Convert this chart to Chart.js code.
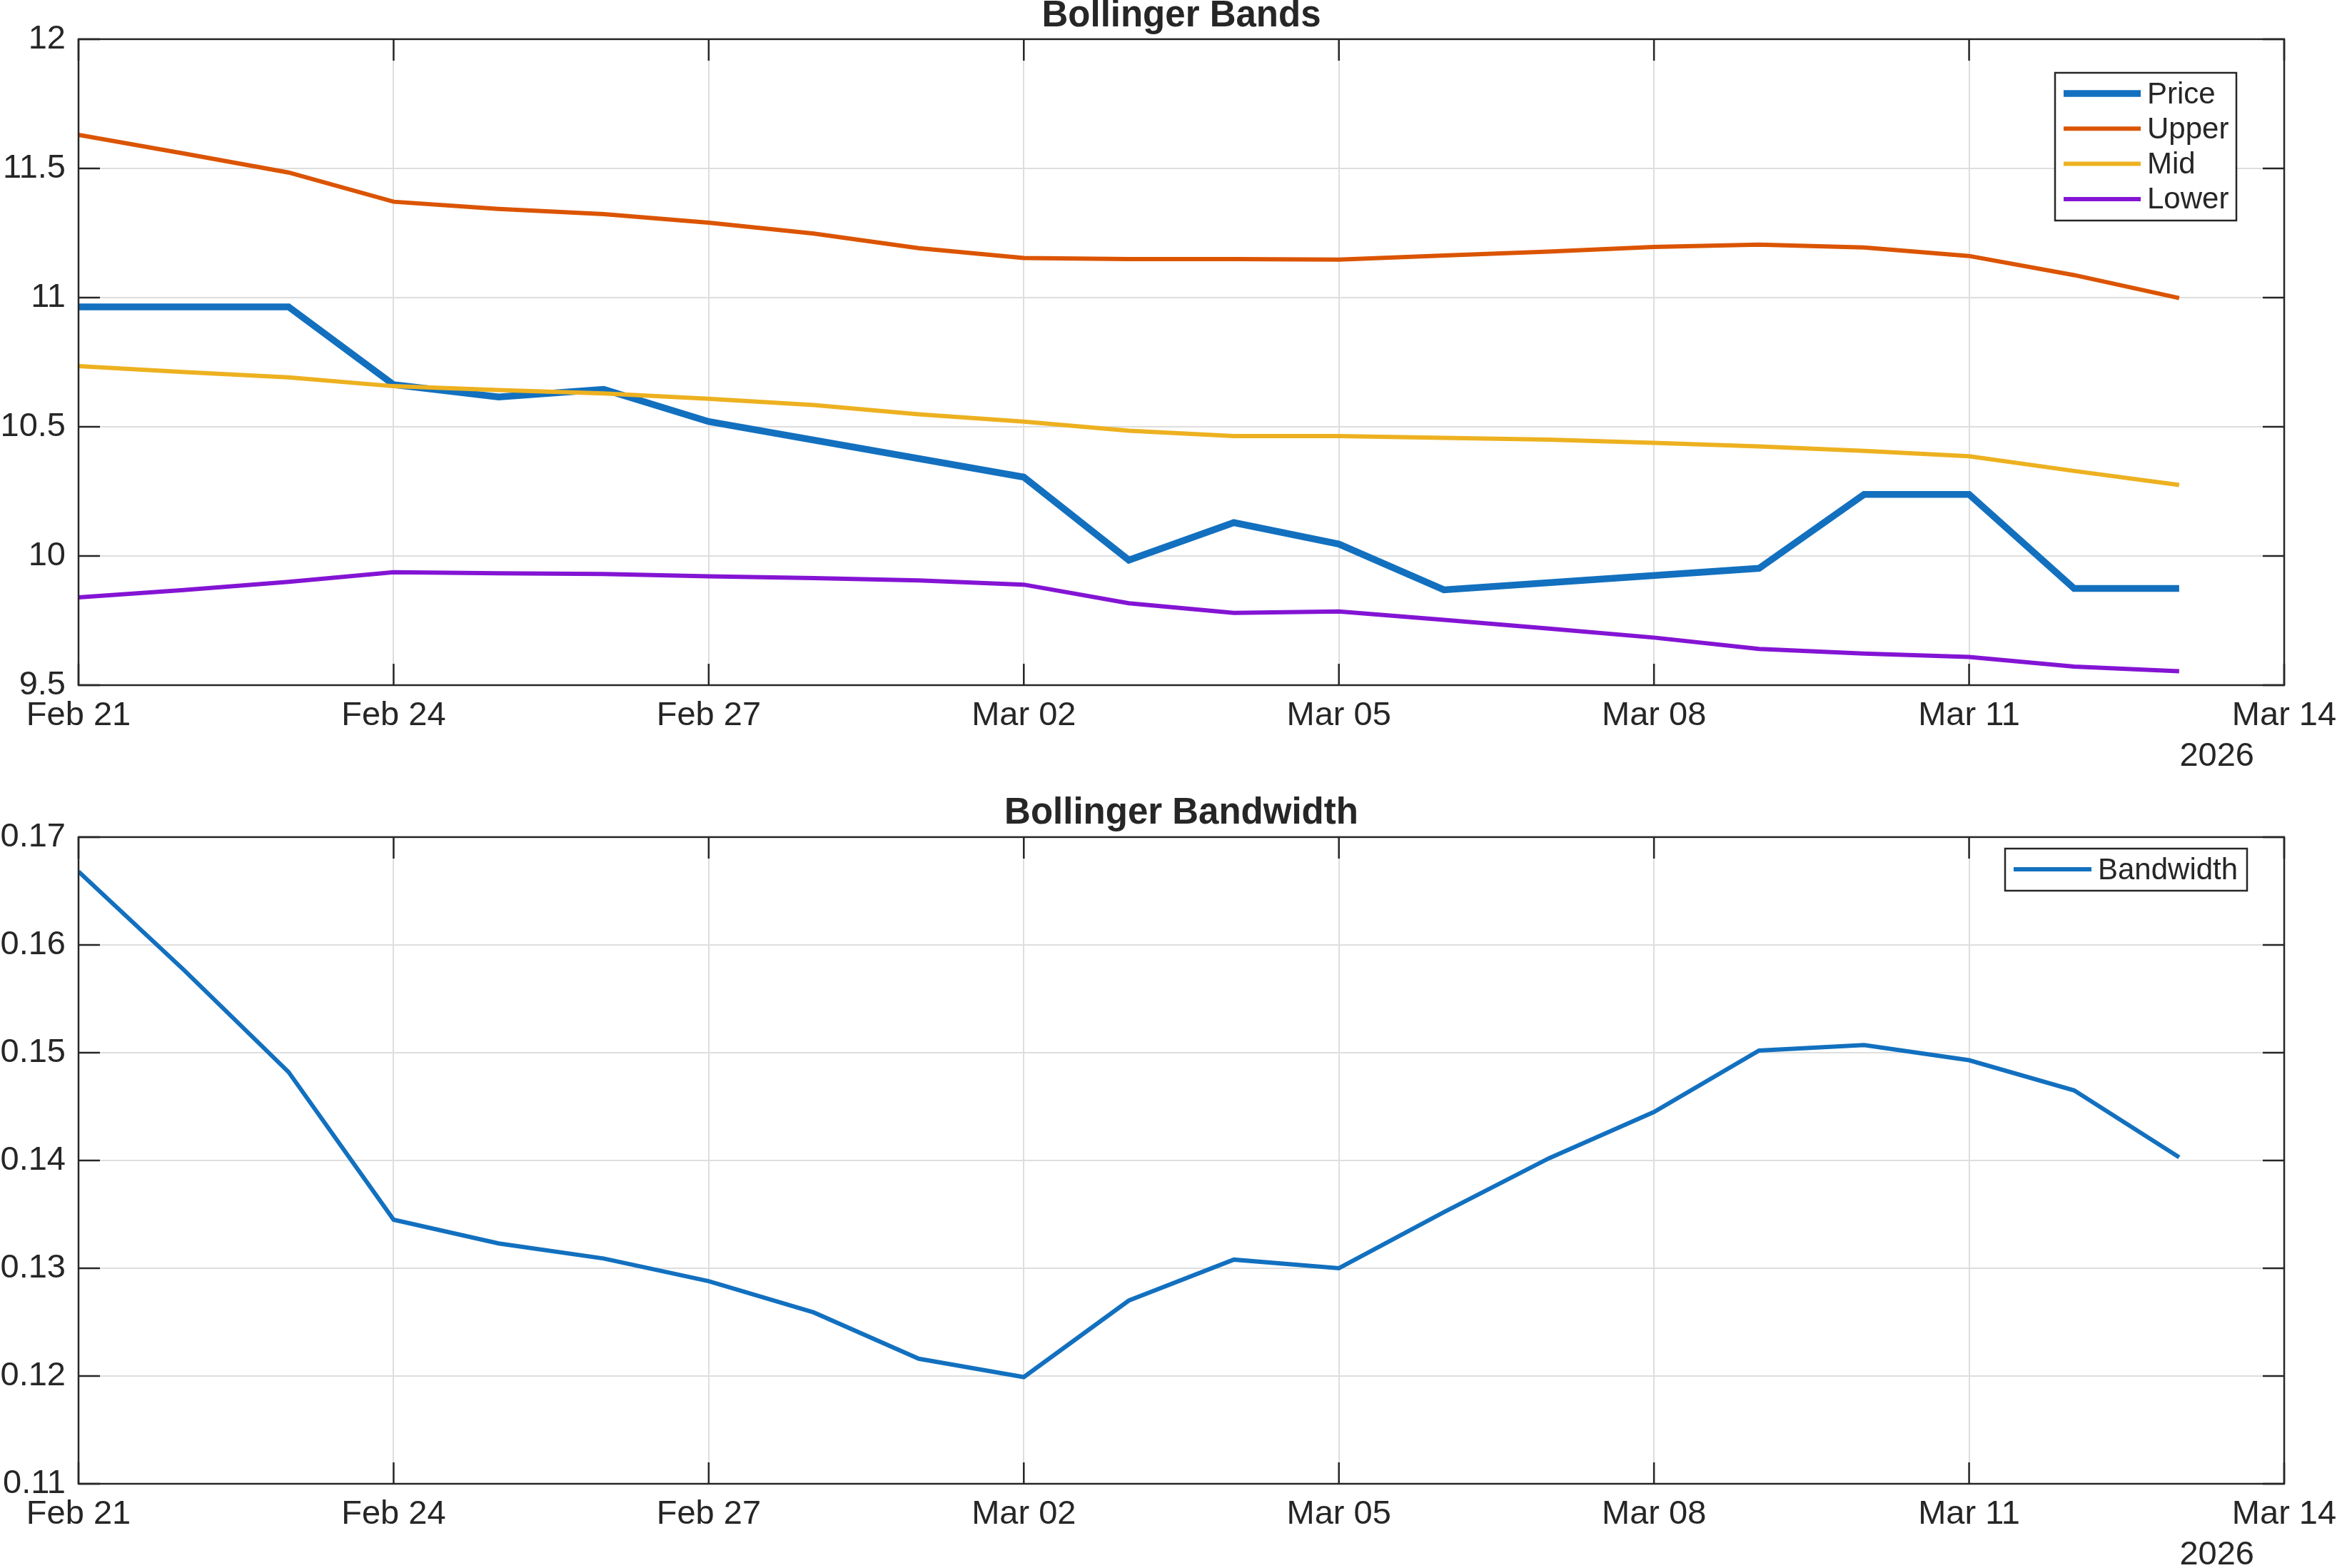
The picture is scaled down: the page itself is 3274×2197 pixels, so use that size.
<!DOCTYPE html>
<html>
<head>
<meta charset="utf-8">
<script src="https://cdn.jsdelivr.net/npm/chart.js@4.4.1/dist/chart.umd.min.js"></script>
<style>
  html, body { margin: 0; padding: 0; background: #fff; }
  canvas { display: block; }
</style>
</head>
<body>
<canvas id="bands" width="3274" height="1080" style="width:3274px;height:1080px"></canvas>
<canvas id="bandwidth" width="3274" height="1117" style="width:3274px;height:1117px"></canvas>
<script>
// day index 0 = Feb 21 2026 ... 20 = Mar 13 2026
const days = [0, 1, 2, 3, 4, 5, 6, 7, 8, 9, 10, 11, 12, 13, 14, 15, 16, 17, 18, 19, 20];
const xTickLabels = ['Feb 21', 'Feb 24', 'Feb 27', 'Mar 02', 'Mar 05', 'Mar 08', 'Mar 11', 'Mar 14'];
const yearLabel = '2026';

const price = [10.964, null, 10.964, 10.663, 10.615, 10.645, 10.520, null, null, 10.305, 9.984,
               10.129, 10.046, 9.869, null, null, 9.952, 10.238, 10.238, 9.874, 9.874];
const upper = [11.630, 11.558, 11.484, 11.371, 11.343, 11.323, 11.290, 11.248, 11.191, 11.153, 11.149,
               11.149, 11.147, 11.163, 11.178, 11.196, 11.205, 11.194, 11.161, 11.087, 10.998];
const mid   = [10.735, 10.712, 10.691, 10.657, 10.642, 10.629, 10.608, 10.584, 10.548, 10.520, 10.485,
               10.464, 10.464, 10.457, 10.450, 10.438, 10.424, 10.407, 10.386, 10.329, 10.275];
const lower = [9.840, 9.868, 9.900, 9.937, 9.933, 9.930, 9.921, 9.914, 9.905, 9.889, 9.817,
               9.780, 9.785, 9.753, 9.719, 9.684, 9.640, 9.622, 9.609, 9.572, 9.554];
const bandwidth = [0.1668, 0.1577, 0.1482, 0.1345, 0.1323, 0.1309, 0.1288, 0.1259, 0.1216, 0.1199, 0.1270,
                   0.1308, 0.1300, 0.1352, 0.1402, 0.1445, 0.1502, 0.1507, 0.1493, 0.1465, 0.1403];

const bandsYTicks = ['9.5', '10', '10.5', '11', '11.5', '12'];
const bwYTicks = ['0.11', '0.12', '0.13', '0.14', '0.15', '0.16', '0.17'];

const FONT = "'Liberation Sans', Arial, Helvetica, sans-serif";
const TEXT = '#262626';
const GRID = '#dedede';
const TICK_LEN = 30;

function points(values) {
  return days.map((d, i) => ({ x: d, y: values[i] }));
}

// MATLAB-ish box, inward ticks, year label and boxed legend
const matlabAxes = {
  id: 'matlabAxes',
  afterDraw(chart, args, opts) {
    const ctx = chart.ctx;
    const a = chart.chartArea;
    const xs = chart.scales.x, ys = chart.scales.y;
    ctx.save();
    ctx.strokeStyle = TEXT;
    ctx.lineWidth = 2.5;
    ctx.beginPath();
    xs.ticks.forEach(t => {
      const px = xs.getPixelForValue(t.value);
      ctx.moveTo(px, a.bottom); ctx.lineTo(px, a.bottom - TICK_LEN);
      ctx.moveTo(px, a.top); ctx.lineTo(px, a.top + TICK_LEN);
    });
    ys.ticks.forEach(t => {
      const py = ys.getPixelForValue(t.value);
      ctx.moveTo(a.left, py); ctx.lineTo(a.left + TICK_LEN, py);
      ctx.moveTo(a.right, py); ctx.lineTo(a.right - TICK_LEN, py);
    });
    ctx.stroke();
    ctx.strokeRect(a.left, a.top, a.right - a.left, a.bottom - a.top);

    ctx.fillStyle = TEXT;
    ctx.font = '47px ' + FONT;
    ctx.textAlign = 'right';
    ctx.textBaseline = 'middle';
    ctx.fillText(yearLabel, a.right - 42, a.bottom + 100);

    const lg = opts.legend;
    ctx.fillStyle = '#fff';
    ctx.fillRect(lg.x, lg.y, lg.w, lg.h);
    ctx.lineWidth = 2.5;
    ctx.strokeStyle = TEXT;
    ctx.strokeRect(lg.x, lg.y, lg.w, lg.h);
    ctx.font = '42px ' + FONT;
    ctx.textAlign = 'left';
    chart.data.datasets.forEach((ds, i) => {
      const y = lg.y + lg.row0 + i * lg.step;
      ctx.strokeStyle = ds.borderColor;
      ctx.lineWidth = ds.borderWidth;
      ctx.beginPath();
      ctx.moveTo(lg.x + lg.line0, y);
      ctx.lineTo(lg.x + lg.line1, y);
      ctx.stroke();
      ctx.fillStyle = TEXT;
      ctx.fillText(ds.label, lg.x + lg.text, y + 2);
    });
    ctx.restore();
  }
};

function makeOptions(cfg) {
  return {
    responsive: false,
    animation: false,
    devicePixelRatio: 1,
    layout: { padding: { top: cfg.padTop, right: 74, left: 0, bottom: 0 } },
    plugins: {
      legend: { display: false },
      tooltip: { enabled: false },
      title: {
        display: true,
        text: cfg.title,
        fullSize: false,
        color: TEXT,
        font: { family: FONT, size: 51, weight: 'bold', lineHeight: 0.9 },
        padding: { top: 0, bottom: cfg.titleGap }
      },
      matlabAxes: { legend: cfg.legend }
    },
    scales: {
      x: {
        type: 'linear',
        min: 0,
        max: 21,
        afterFit: s => {
          s.height = cfg.xHeight;
          s.paddingLeft = 0;
          s.paddingRight = 0;
        },
        grid: { color: GRID, lineWidth: 2, drawTicks: false },
        border: { display: false },
        ticks: {
          stepSize: 3,
          autoSkip: false,
          maxRotation: 0,
          padding: 15,
          color: TEXT,
          font: { family: FONT, size: 47 },
          callback: (v, i) => xTickLabels[i]
        }
      },
      y: {
        min: cfg.yMin,
        max: cfg.yMax,
        afterFit: s => {
          s.width = 110;
          s.paddingTop = 0;
          s.paddingBottom = 0;
        },
        grid: { color: GRID, lineWidth: 2, drawTicks: false },
        border: { display: false },
        ticks: {
          stepSize: cfg.yStep,
          padding: 18,
          color: TEXT,
          font: { family: FONT, size: 47 },
          callback: (v, i) => cfg.yLabels[i]
        }
      }
    }
  };
}

function lineSet(label, values, color, width, order) {
  return {
    label: label,
    data: points(values),
    borderColor: color,
    backgroundColor: color,
    borderWidth: width,
    pointRadius: 0,
    tension: 0,
    spanGaps: true,
    order: order
  };
}

new Chart(document.getElementById('bands'), {
  type: 'line',
  data: {
    datasets: [
      lineSet('Price', price, '#1270BF', 9.5, 4),
      lineSet('Upper', upper, '#DB5400', 6, 3),
      lineSet('Mid', mid, '#EDB120', 6, 2),
      lineSet('Lower', lower, '#8414D4', 6, 1)
    ]
  },
  options: makeOptions({
    title: 'Bollinger Bands',
    padTop: 0,
    titleGap: 9,
    xHeight: 120,
    yMin: 9.5, yMax: 12, yStep: 0.5, yLabels: bandsYTicks,
    legend: { x: 2879, y: 102, w: 254, h: 207, row0: 29, step: 49.3, line0: 12, line1: 120, text: 129 }
  }),
  plugins: [matlabAxes]
});

new Chart(document.getElementById('bandwidth'), {
  type: 'line',
  data: {
    datasets: [
      lineSet('Bandwidth', bandwidth, '#1270BF', 6, 1)
    ]
  },
  options: makeOptions({
    title: 'Bollinger Bandwidth',
    padTop: 37,
    titleGap: 10,
    xHeight: 118,
    yMin: 0.11, yMax: 0.17, yStep: 0.01, yLabels: bwYTicks,
    legend: { x: 2809, y: 109, w: 339, h: 59, row0: 29, step: 0, line0: 12, line1: 121, text: 130 }
  }),
  plugins: [matlabAxes]
});
</script>
</body>
</html>
